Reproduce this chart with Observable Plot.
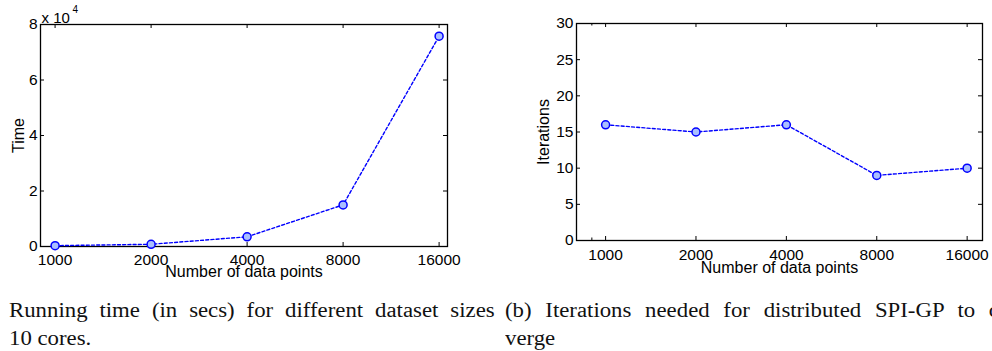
<!DOCTYPE html>
<html>
<head>
<meta charset="utf-8">
<script src="https://cdn.jsdelivr.net/npm/d3@7"></script>
<script src="https://cdn.jsdelivr.net/npm/@observablehq/plot@0.6"></script>
<style>
  html, body { margin: 0; padding: 0; background: #fff; }
  #wrap { position: relative; width: 992px; height: 351px; overflow: hidden; background: #fff; }
  .panel { position: absolute; top: 0; }
  .cap { position: absolute; font-family: "Liberation Serif", "Times New Roman", serif; font-size: 20px;
         line-height: 28px; color: #111; transform-origin: 0 0; transform: scaleX(1.14); white-space: nowrap; }
  .just { text-align: justify; text-align-last: justify; white-space: normal; }
</style>
</head>
<body>
<div id="wrap">
  <div id="left" class="panel" style="left:0px"></div>
  <div id="right" class="panel" style="left:496px"></div>
  <div class="cap just" style="left:9px; top:296px; width:426px;">Running time (in secs) for different dataset sizes</div>
  <div class="cap" style="left:9px; top:324px;">10 cores.</div>
  <div class="cap just" style="left:505px; top:296px; width:460px;">(b) Iterations needed for distributed SPI-GP to con-</div>
  <div class="cap" style="left:505px; top:324px;">verge</div>
</div>
<script>
// ---- data ----
const sizes = [1000, 2000, 4000, 8000, 16000];
const timeSecs = [300, 800, 3500, 15000, 75800];
const iterations = [16, 15, 16, 9, 10];
const xTickLabels = ["1000", "2000", "4000", "8000", "16000"];
const timeTicks = [0, 20000, 40000, 60000, 80000];
const iterTicks = [0, 5, 10, 15, 20, 25, 30];
const minorTicksRight = [900];

const blue = "#0000ff";
const markerFill = "#aabfff";

function panel({width, height, ml, mr, mt, mb, xDomain, yDomain, yTicks, yFmt, values, yLabel, yLabelDx, xLabelDy, xPad, extra = [], minor = []}) {
  const fw = width - ml - mr, fh = height - mt - mb, tl = 4;
  const pts = sizes.map((s, i) => ({s, v: values[i]}));
  return Plot.plot({
    width, height, marginLeft: ml, marginRight: mr, marginTop: mt, marginBottom: mb,
    style: {fontFamily: "'Liberation Sans', Arial, sans-serif", fontSize: "15.5px", color: "#000", background: "#fff", overflow: "visible"},
    x: {type: "log", domain: xDomain, label: null, axis: null},
    y: {domain: yDomain, label: null, axis: null},
    marks: [
      // inward ticks (bottom/top)
      Plot.tickX(sizes, {x: d => d, insetTop: fh - tl, stroke: "#000", strokeWidth: 1}),
      Plot.tickX(sizes, {x: d => d, insetBottom: fh - tl, stroke: "#000", strokeWidth: 1}),
      Plot.tickX(minor, {x: d => d, insetTop: fh - 2.5, stroke: "#000", strokeWidth: 1}),
      Plot.tickX(minor, {x: d => d, insetBottom: fh - 2.5, stroke: "#000", strokeWidth: 1}),
      // inward ticks (left/right)
      Plot.tickY(yTicks, {y: d => d, insetRight: fw - tl, stroke: "#000", strokeWidth: 1}),
      Plot.tickY(yTicks, {y: d => d, insetLeft: fw - tl, stroke: "#000", strokeWidth: 1}),
      Plot.frame({stroke: "#000", strokeWidth: 1.3}),
      // tick labels
      Plot.text(sizes, {x: d => d, frameAnchor: "bottom", dy: xPad, lineAnchor: "top", textAnchor: "middle",
                        text: (d, i) => xTickLabels[i], fill: "#000"}),
      Plot.text(yTicks, {y: d => d, frameAnchor: "left", dx: -3, textAnchor: "end", lineAnchor: "middle",
                         text: d => yFmt(d), fill: "#000"}),
      Plot.text(["Number of data points"], {frameAnchor: "bottom", dy: xLabelDy, lineAnchor: "bottom", fontSize: 16, fill: "#000"}),
      Plot.text([yLabel], {frameAnchor: "left", dx: yLabelDx, rotate: -90, textAnchor: "middle", lineAnchor: "middle", fontSize: 16, fill: "#000"}),
      Plot.line(pts, {x: "s", y: "v", stroke: blue, strokeWidth: 1.4, strokeDasharray: "3,2.2"}),
      Plot.dot(pts, {x: "s", y: "v", r: 4, fill: markerFill, stroke: blue, strokeWidth: 1.5}),
      ...extra
    ]
  });
}

const left = panel({
  width: 480, height: 290, ml: 40, mr: 33, mt: 24, mb: 44,
  xDomain: [900, 17000], yDomain: [0, 80000], yTicks: timeTicks, yFmt: d => String(d / 1e4),
  values: timeSecs, yLabel: "Time", yLabelDx: -22, xLabelDy: 30, xPad: 7,
  extra: [
    Plot.text(["x 10"], {frameAnchor: "top-left", dx: 1, dy: -2, lineAnchor: "bottom", textAnchor: "start", fontSize: 15, fill: "#000"}),
    Plot.text(["4"], {frameAnchor: "top-left", dx: 32, dy: -12, lineAnchor: "bottom", textAnchor: "start", fontSize: 10, fill: "#000"})
  ]
});
document.getElementById("left").appendChild(left);

const right = panel({
  width: 496, height: 290, ml: 80, mr: 10, mt: 23, mb: 50,
  xDomain: [800, 18000], yDomain: [0, 30], yTicks: iterTicks, yFmt: d => String(d),
  values: iterations, yLabel: "Iterations", yLabelDx: -33, xLabelDy: 32, xPad: 8,
  minor: minorTicksRight
});
document.getElementById("right").appendChild(right);
</script>
</body>
</html>
